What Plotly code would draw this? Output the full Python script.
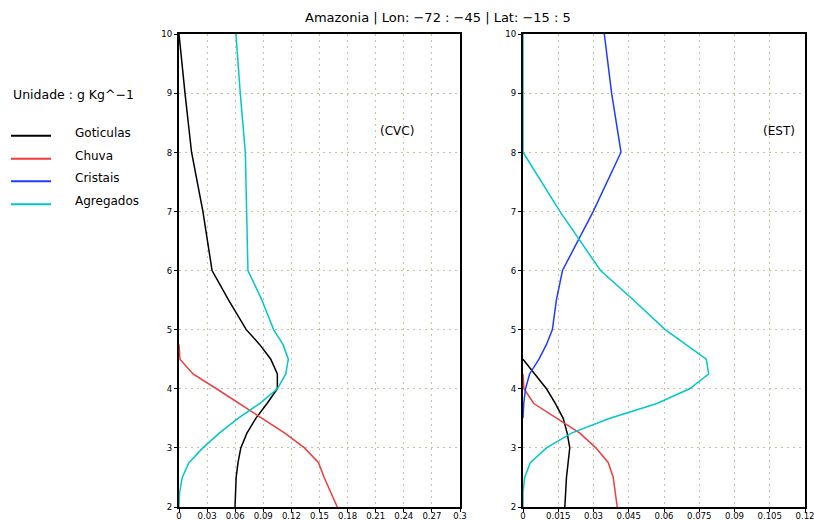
import plotly.graph_objects as go

W, H = 814, 520

levels = [2, 2.25, 2.5, 2.75, 3, 3.25, 3.5, 3.75, 4, 4.25, 4.5, 4.75, 5, 5.5, 6, 7, 8, 9, 10]

# CVC panel (left)
cvc_goticulas = [0.0598, 0.060, 0.061, 0.063, 0.066, 0.0725, 0.082, 0.094, 0.105, 0.105, 0.098, 0.086,
                 0.0718, 0.053, 0.0353, 0.0255, 0.0134, 0.0064, 0.0]
cvc_chuva = [0.169, 0.162, 0.155, 0.149, 0.134, 0.113, 0.089, 0.064, 0.040, 0.015, 0.001, 0.0,
             None, None, None, None, None, None, None]
cvc_agregados = [0.0, 0.0007, 0.0035, 0.0106, 0.0255, 0.043, 0.063, 0.086, 0.105, 0.114, 0.1167, 0.111,
                 0.101, 0.0885, 0.0736, 0.0725, 0.0708, 0.0654, 0.0608]

# EST panel (right)
est_goticulas = [0.0178, 0.0181, 0.0185, 0.0192, 0.0199, 0.0188, 0.0171, 0.0138, 0.010, 0.005, 0.0,
                 None, None, None, None, None, None, None, None]
est_chuva = [0.0401, 0.0394, 0.0384, 0.0363, 0.031, 0.0242, 0.0142, 0.0046, 0.0004, 0.0,
             None, None, None, None, None, None, None, None, None]
est_cristais = [None, None, None, None, None, None, 0.0, 0.0003, 0.0011, 0.0028, 0.0068, 0.0100,
                0.0125, 0.0142, 0.0168, 0.0299, 0.0417, 0.0377, 0.0346]
est_agregados = [0.0, 0.0, 0.0007, 0.0031, 0.010, 0.0206, 0.037, 0.057, 0.0709, 0.079, 0.078, 0.069,
                 0.0605, 0.047, 0.033, 0.0157, 0.0, 0.0, 0.0]

series_names = ["Goticulas", "Chuva", "Cristais", "Agregados"]
series_colors = ["#000000", "#f03c3c", "#1e3cff", "#00c8c8"]

title_text = "Amazonia | Lon: \u221272 : \u221245 | Lat: \u221215 : 5"
unit_text = "Unidade : g Kg^\u22121"
panel_labels = ["(CVC)", "(EST)"]

FONT = "DejaVu Sans"
TICKFONT = "Liberation Sans Narrow, DejaVu Sans Condensed, Liberation Sans, sans-serif"

fig = go.Figure()

left = [cvc_goticulas, cvc_chuva, None, cvc_agregados]
right = [est_goticulas, est_chuva, est_cristais, est_agregados]

for vals, name, col in zip(left, series_names, series_colors):
    if vals is None:
        continue
    fig.add_trace(go.Scatter(x=vals, y=levels, mode="lines", name=name,
                             line=dict(color=col, width=1.5), xaxis="x", yaxis="y",
                             showlegend=False, connectgaps=False))
for vals, name, col in zip(right, series_names, series_colors):
    fig.add_trace(go.Scatter(x=vals, y=levels, mode="lines", name=name,
                             line=dict(color=col, width=1.5), xaxis="x2", yaxis="y2",
                             showlegend=False, connectgaps=False))

grid_col = "#c4c4a0"
common_axis = dict(showline=True, linecolor="black", linewidth=2, mirror=True,
                   ticks="outside", tickcolor="black", tickwidth=1,
                   showgrid=True, gridcolor=grid_col, griddash="2px,4px", gridwidth=1,
                   zeroline=False, tickfont=dict(family=TICKFONT, size=9.5, color="#000000"),
                   layer="below traces", automargin=False, fixedrange=True)
x_extra = dict(ticklen=3, ticklabelstandoff=-4, ticklabeloverflow="allow")
y_extra = dict(ticklen=3)

ydom = [1 - 507 / H, 1 - 34 / H]
fig.update_layout(
    width=W, height=H,
    margin=dict(l=0, r=0, t=0, b=0),
    paper_bgcolor="white", plot_bgcolor="white",
    showlegend=False,
    xaxis=dict(domain=[179 / W, 460 / W], range=[0, 0.3], tick0=0, dtick=0.03, anchor="y",
               **common_axis, **x_extra),
    yaxis=dict(domain=ydom, range=[2, 10], tick0=2, dtick=1, anchor="x", **common_axis, **y_extra),
    xaxis2=dict(domain=[523 / W, 805 / W], range=[0, 0.12], tick0=0, dtick=0.015, anchor="y2",
                **common_axis, **x_extra),
    yaxis2=dict(domain=ydom, range=[2, 10], tick0=2, dtick=1, anchor="x2", **common_axis, **y_extra),
)

annotations = [
    dict(text=title_text, x=438 / W, y=1 - 18 / H, xref="paper", yref="paper",
         xanchor="center", yanchor="middle", showarrow=False,
         font=dict(family=FONT, size=13, color="#000000")),
    dict(text=panel_labels[0], x=397 / W, y=1 - 131 / H, xref="paper", yref="paper",
         xanchor="center", yanchor="middle", showarrow=False,
         font=dict(family=FONT, size=12, color="#000000")),
    dict(text=panel_labels[1], x=779 / W, y=1 - 131 / H, xref="paper", yref="paper",
         xanchor="center", yanchor="middle", showarrow=False,
         font=dict(family=FONT, size=12, color="#000000")),
    dict(text=unit_text, x=11 / W, y=1 - 94.5 / H, xref="paper", yref="paper",
         xanchor="left", yanchor="middle", showarrow=False,
         font=dict(family=FONT, size=12.5, color="#000000")),
]
shapes = []
legend_line_y = [135.7, 158.7, 181.2, 204.3]
for name, col, ly in zip(series_names, series_colors, legend_line_y):
    shapes.append(dict(type="line", xref="paper", yref="paper",
                       x0=11 / W, x1=51 / W, y0=1 - ly / H, y1=1 - ly / H,
                       line=dict(color=col, width=2)))
    annotations.append(dict(text=name, x=73 / W, y=1 - (ly - 3) / H, xref="paper", yref="paper",
                            xanchor="left", yanchor="middle", showarrow=False,
                            font=dict(family=FONT, size=12, color="#000000")))

fig.update_layout(annotations=annotations, shapes=shapes)

fig.write_html("out.html", config={"displayModeBar": False})

# remove the browser's default page margin so the figure sits at the window origin
with open("out.html", "r", encoding="utf-8") as f:
    html = f.read()
html = html.replace("<head>", "<head><style>html,body{margin:0;padding:0;overflow:hidden;}</style>", 1)
with open("out.html", "w", encoding="utf-8") as f:
    f.write(html)
